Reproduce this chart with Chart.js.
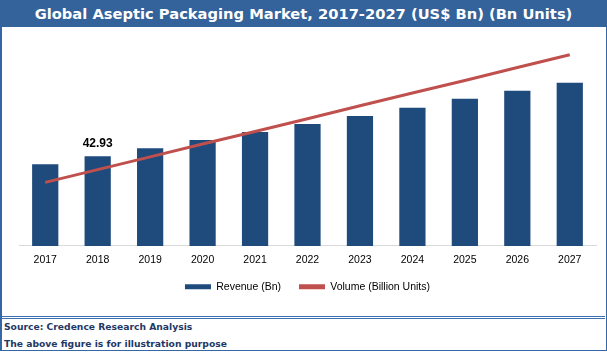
<!DOCTYPE html>
<html>
<head>
<meta charset="utf-8">
<script src="https://cdn.jsdelivr.net/npm/chart.js@4"></script>
<style>
body{margin:0;background:#fff;}
#wrap{position:relative;width:607px;height:352px;overflow:hidden;background:#fff;}
#title{position:absolute;left:0;top:0;width:607px;height:27px;background:#34629a;color:#fff;
  font:bold 14.7px "DejaVu Sans",sans-serif;text-align:center;line-height:27px;}
#frame{position:absolute;left:0;top:27px;width:604px;height:323px;border-left:2px solid #3566a6;border-right:1px solid #3566a6;border-bottom:1px solid #3566a6;}
#dbl{position:absolute;left:2px;top:316px;width:603px;height:1px;border-top:1px solid #3d6fb3;border-bottom:1px solid #3d6fb3;}
#box{position:absolute;left:0;top:27px;width:607px;height:289px;}
.foot{position:absolute;left:4px;font:bold 9.2px "DejaVu Sans",sans-serif;color:#1f3864;}
</style>
</head>
<body>
<div id="wrap">
  <div id="title">Global Aseptic Packaging Market, 2017-2027 (US$ Bn) (Bn Units)</div>
  <div id="frame"></div>
  <div id="box"><canvas id="marketChart"></canvas></div>
  <div id="dbl"></div>
  <div class="foot" style="top:321px">Source: Credence Research Analysis</div>
  <div class="foot" style="top:338px">The above figure is for illustration purpose</div>
</div>
<script>
const years = ['2017','2018','2019','2020','2021','2022','2023','2024','2025','2026','2027'];
const revenue = [39.1, 42.93, 46.8, 50.7, 54.5, 58.4, 62.2, 66.1, 70.4, 74.3, 78.1];
const volume = [30.4, 36.5, 42.6, 48.8, 54.8, 60.9, 67.1, 73.2, 79.2, 85.4, 91.5];
const labelIndex = 1;

const barColor = '#1f4a7c';
const lineColor = '#c0504d';

// only the 2018 bar carries a value label
const valueLabel = {
    id:'valueLabel',
    afterLayout(chart){
        // pull the legend up closer to the axis labels
        chart.legend.top -= 11;
        chart.legend.bottom -= 11;
    },
    afterDatasetsDraw(chart){
        const bar = chart.getDatasetMeta(1).data[labelIndex];
        const c = chart.ctx;
        c.save();
        c.font = 'bold 12px "Liberation Sans", sans-serif';
        c.fillStyle = '#000';
        c.textAlign = 'center';
        c.textBaseline = 'middle';
        c.fillText(revenue[labelIndex].toFixed(2), bar.x, bar.y - 13);
        c.restore();
    }
};

const ctx = document.getElementById('marketChart');

new Chart(ctx,{
    type:'bar',
    data:{
        labels:years,
        datasets:[{
            type:'line',
            label:'Volume (Billion Units)',
            data:volume,
            borderColor:lineColor,
            backgroundColor:lineColor,
            borderWidth:3,
            pointRadius:0,
            tension:0,
            order:0
        },{
            label:'Revenue (Bn)',
            data:revenue,
            backgroundColor:barColor,
            barPercentage:0.5,
            categoryPercentage:1,
            order:1
        }]
    },
    options:{
        responsive:true,
        maintainAspectRatio:false,
        animation:false,
        layout:{padding:{left:19,right:11,top:10,bottom:3}},
        scales:{
            x:{
                grid:{display:false,drawTicks:false},
                border:{display:true,color:'#d9d9d9',width:1},
                ticks:{color:'#000',padding:8,font:{family:'"Liberation Sans", sans-serif',size:10.5}}
            },
            y:{
                display:false,
                min:0,
                max:100
            }
        },
        plugins:{
            tooltip:{enabled:false},
            legend:{
                position:'bottom',
                reverse:true,
                labels:{
                    boxWidth:26,
                    boxHeight:5,
                    padding:18,
                    color:'#000',
                    font:{family:'"Liberation Sans", sans-serif',size:10.5},
                    generateLabels(chart){
                        return chart.data.datasets.map((ds,i) => ({
                            text:ds.label,
                            fillStyle:ds.type === 'line' ? lineColor : barColor,
                            strokeStyle:ds.type === 'line' ? lineColor : barColor,
                            lineWidth:0,
                            datasetIndex:i,
                            hidden:false
                        }));
                    }
                }
            }
        }
    },
    plugins:[valueLabel]
});
</script>
</body>
</html>
